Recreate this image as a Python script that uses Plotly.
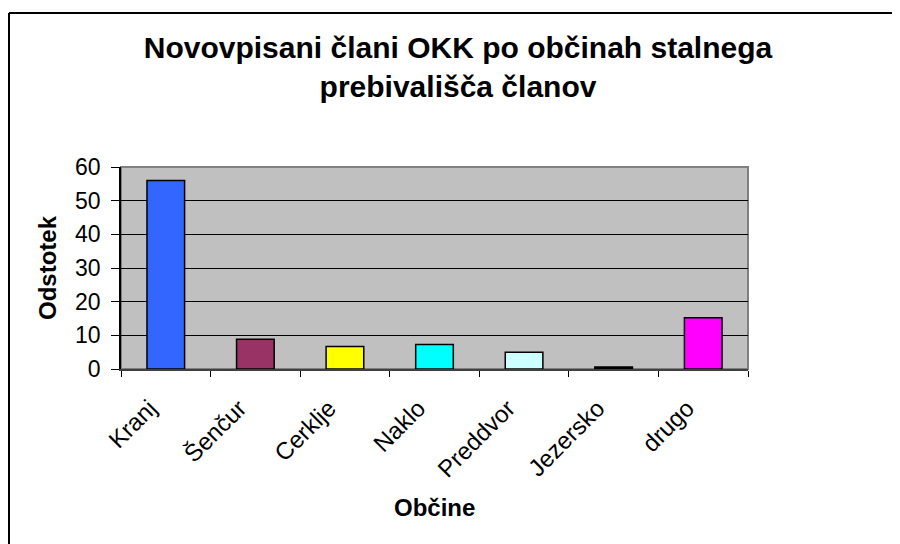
import plotly.graph_objects as go

# data (percent of new members by municipality)
obcine = ['Kranj', 'Šenčur', 'Cerklje', 'Naklo', 'Preddvor', 'Jezersko', 'drugo']
odstotek = [56.0, 8.8, 6.7, 7.3, 5.0, 0.6, 15.2]
barve = ['#3366FF', '#993366', '#FFFF00', '#00FFFF', '#CCFFFF', '#000000', '#FF00FF']
y_ticks = [0, 10, 20, 30, 40, 50, 60]

FONT = 'Arial, Liberation Sans, sans-serif'

fig = go.Figure(go.Bar(
    x=obcine,
    y=odstotek,
    marker=dict(color=barve, line=dict(color='black', width=1.5)),
))

# the page body adds 8px, so figure pixels = screen pixels - 8
L, R, T, B = 113, 740, 159, 361
W, H = 900, 544
pw, ph = R - L, B - T


def px_x(p):
    return (p - L) / pw


def px_y(p):
    return (B - p) / ph


fig.update_layout(
    width=W,
    height=H,
    paper_bgcolor='white',
    plot_bgcolor='#C0C0C0',
    font=dict(family=FONT, color='black', size=23),
    margin=dict(l=L, r=W - R, t=T, b=H - B, autoexpand=False),
    bargap=0.58,
    showlegend=False,
    title=dict(
        text='Novovpisani člani OKK po občinah stalnega<br>prebivališča članov',
        font=dict(family=FONT, size=30, color='black', weight='bold'),
        x=0.5,
        xanchor='center',
        xref='container',
        y=1 - 50 / H,
        yanchor='top',
        yref='container',
    ),
    xaxis=dict(
        type='category',
        tickangle=-45,
        tickson='boundaries',
        ticks='outside',
        ticklen=6,
        tickcolor='black',
        ticklabelstandoff=14,
        ticklabelshift=-16,
        showline=True,
        linecolor='#404040',
        linewidth=1.5,
        showgrid=False,
        tickfont=dict(size=24),
        automargin=False,
    ),
    yaxis=dict(
        range=[0, 60],
        tickvals=y_ticks,
        ticks='outside',
        ticklen=8,
        tickcolor='black',
        ticklabelstandoff=6,
        showline=True,
        linecolor='black',
        linewidth=1.5,
        showgrid=True,
        gridcolor='black',
        gridwidth=1,
        zeroline=False,
        tickfont=dict(size=23),
        title=dict(text='Odstotek', font=dict(size=24, weight='bold'), standoff=12),
        automargin=True,
    ),
    annotations=[
        # x axis title
        dict(text='Občine', xref='paper', yref='paper', x=0.5, y=px_y(499),
             xanchor='center', yanchor='middle', showarrow=False,
             font=dict(family=FONT, size=24, color='black', weight='bold')),
    ],
    shapes=[
        # gray border around plot area
        dict(type='rect', xref='paper', yref='paper', x0=0, x1=1, y0=0, y1=1,
             line=dict(color='#808080', width=2), layer='below'),
        # outer chart frame (top and left edges visible)
        dict(type='line', xref='paper', yref='paper',
             x0=px_x(1), x1=px_x(W + 10), y0=px_y(5), y1=px_y(5),
             line=dict(color='black', width=2)),
        dict(type='line', xref='paper', yref='paper',
             x0=px_x(1), x1=px_x(1), y0=px_y(5), y1=px_y(H + 10),
             line=dict(color='black', width=2)),
    ],
)

fig.write_html("out.html")
